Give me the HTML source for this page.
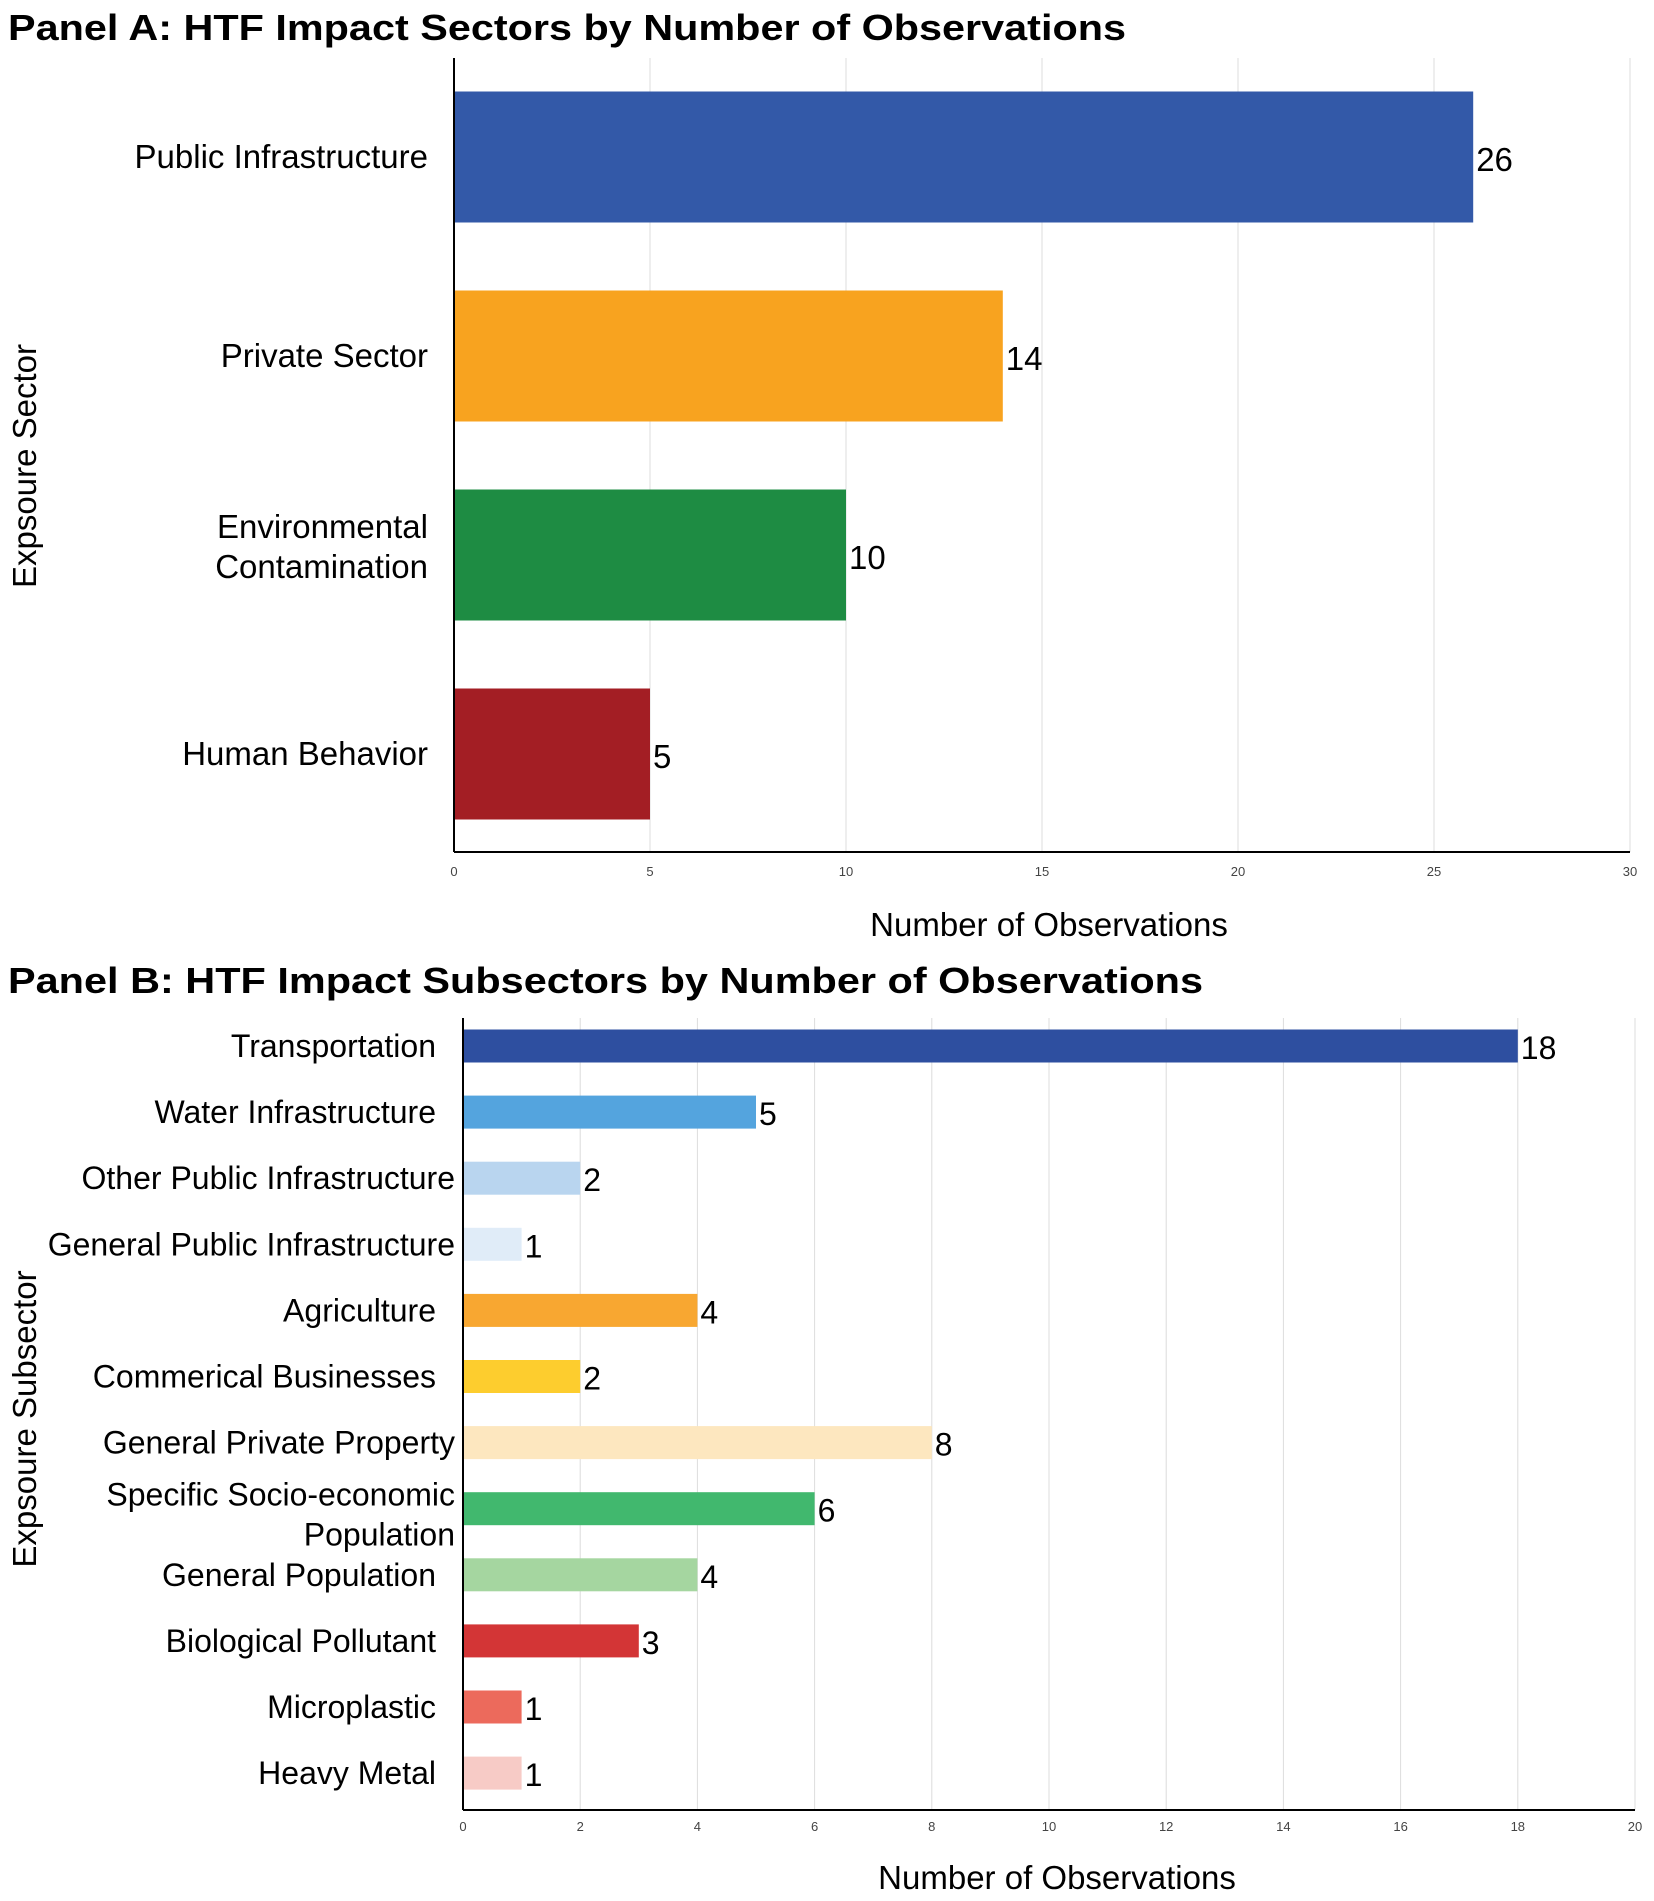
<!DOCTYPE html>
<html><head><meta charset="utf-8"><style>
html,body{margin:0;padding:0;background:#fff;}
svg{display:block;font-family:"Liberation Sans",Arial,sans-serif;}
</style></head><body>
<svg id="chart" width="1654" height="1901" viewBox="0 0 1654 1901" xmlns="http://www.w3.org/2000/svg">
<text x="8" y="40" font-size="36" font-weight="bold" textLength="1118" lengthAdjust="spacingAndGlyphs">Panel A: HTF Impact Sectors by Number of Observations</text>
<text x="8" y="993" font-size="36" font-weight="bold" textLength="1195" lengthAdjust="spacingAndGlyphs">Panel B: HTF Impact Subsectors by Number of Observations</text>
<g id="pa"></g><g id="pb"></g>
</svg>
<script>
const catsA = [["Public Infrastructure"],["Private Sector"],["Environmental","Contamination"],["Human Behavior"]];
const valsA = [26,14,10,5];
const colorsA = ["#3359a8","#f8a31f","#1e8c43","#a31e24"];
const ticksA = [0,5,10,15,20,25,30];

const catsB = [["Transportation"],["Water Infrastructure"],["Other Public Infrastructure"],["General Public Infrastructure"],["Agriculture"],["Commerical Businesses"],["General Private Property"],["Specific Socio-economic","Population"],["General Population"],["Biological Pollutant"],["Microplastic"],["Heavy Metal"]];
const valsB = [18,5,2,1,4,2,8,6,4,3,1,1];
const colorsB = ["#2e4fa0","#54a4de","#b9d5ef","#e0ecf8","#f8a731","#fdcd2e","#fde7bf","#41b86e","#a5d6a0","#d33536","#ec6a5c","#f7cbc6"];
const ticksB = [0,2,4,6,8,10,12,14,16,18,20];

const NS="http://www.w3.org/2000/svg";
function mk(parent,tag,attrs,txt){const e=document.createElementNS(NS,tag);for(const k in attrs)e.setAttribute(k,attrs[k]);if(txt!==undefined)e.textContent=txt;parent.appendChild(e);return e;}

function panel(g,o){
  const sx=v=>o.x0+(v-o.tmin)/(o.tmax-o.tmin)*(o.x1-o.x0);
  o.ticks.forEach(t=>{
    const l=mk(g,'line',{x1:sx(t),x2:sx(t),y1:o.top,y2:o.bottom,stroke:'#dcdcdc','stroke-width':1});
    
    
    const tx=mk(g,'text',{x:sx(t),y:o.tickY,'font-size':13,'text-anchor':'middle',fill:'#444'},String(t));
    
    
  });
  o.vals.forEach((v,i)=>{
    const cy=o.c0+i*o.step;
    const r=mk(g,'rect',{x:sx(0),y:cy-o.bh/2,width:sx(v)-sx(0),height:o.bh,fill:o.colors[i]});
    
    
    const vl=mk(g,'text',{x:sx(v)+3,y:cy+o.vOff,'font-size':o.fs},String(v));
    
    
    const lines=o.cats[i];
    const rx=(o.longRight&&lines.some(s=>s.length>22))?o.longRight:o.labelRight;
    lines.forEach((s,j)=>{
      const yy=cy+11+(j-(lines.length-1)/2)*o.lh+(o.lineShift||0)*(lines.length>1?1:0);
      const tl=mk(g,'text',{x:rx,y:yy,'font-size':o.fs,'text-anchor':'end'},s);
      
      
    });
  });
  const ax=mk(g,'line',{x1:o.x0,x2:o.x0,y1:o.top,y2:o.bottom,stroke:'#000','stroke-width':2});
  
  
  const bx=mk(g,'line',{x1:o.x0,x2:o.x1,y1:o.bottom,y2:o.bottom,stroke:'#000','stroke-width':2});
  
  
  const xt=mk(g,'text',{x:o.xtX,y:o.xtY,'font-size':33,'text-anchor':'middle'},'Number of Observations');
  
  
  const yt=mk(g,'text',{x:0,y:0,'font-size':33,'text-anchor':'middle',transform:`translate(36,${o.ytY}) rotate(-90)`},o.ytitle);
  
  
}
panel(document.getElementById('pa'),{x0:454,x1:1630,tmin:0,tmax:30,top:58,bottom:852,ticks:ticksA,tickY:876,
  vals:valsA,colors:colorsA,cats:catsA,c0:157,step:199,bh:131,fs:33,vOff:14,labelRight:428,lh:40,lineShift:-8,
  xtX:1049,xtY:936,ytY:466,ytitle:'Expsoure Sector'});
panel(document.getElementById('pb'),{x0:463,x1:1635,tmin:0,tmax:20,top:1018,bottom:1810,ticks:ticksB,tickY:1831,
  vals:valsB,colors:colorsB,cats:catsB,c0:1046,step:66.1,bh:33,fs:32,vOff:13,labelRight:436,longRight:455,lh:40,lineShift:6,
  xtX:1057,xtY:1889,ytY:1419,ytitle:'Expsoure Subsector'});
</script>
</body></html>
